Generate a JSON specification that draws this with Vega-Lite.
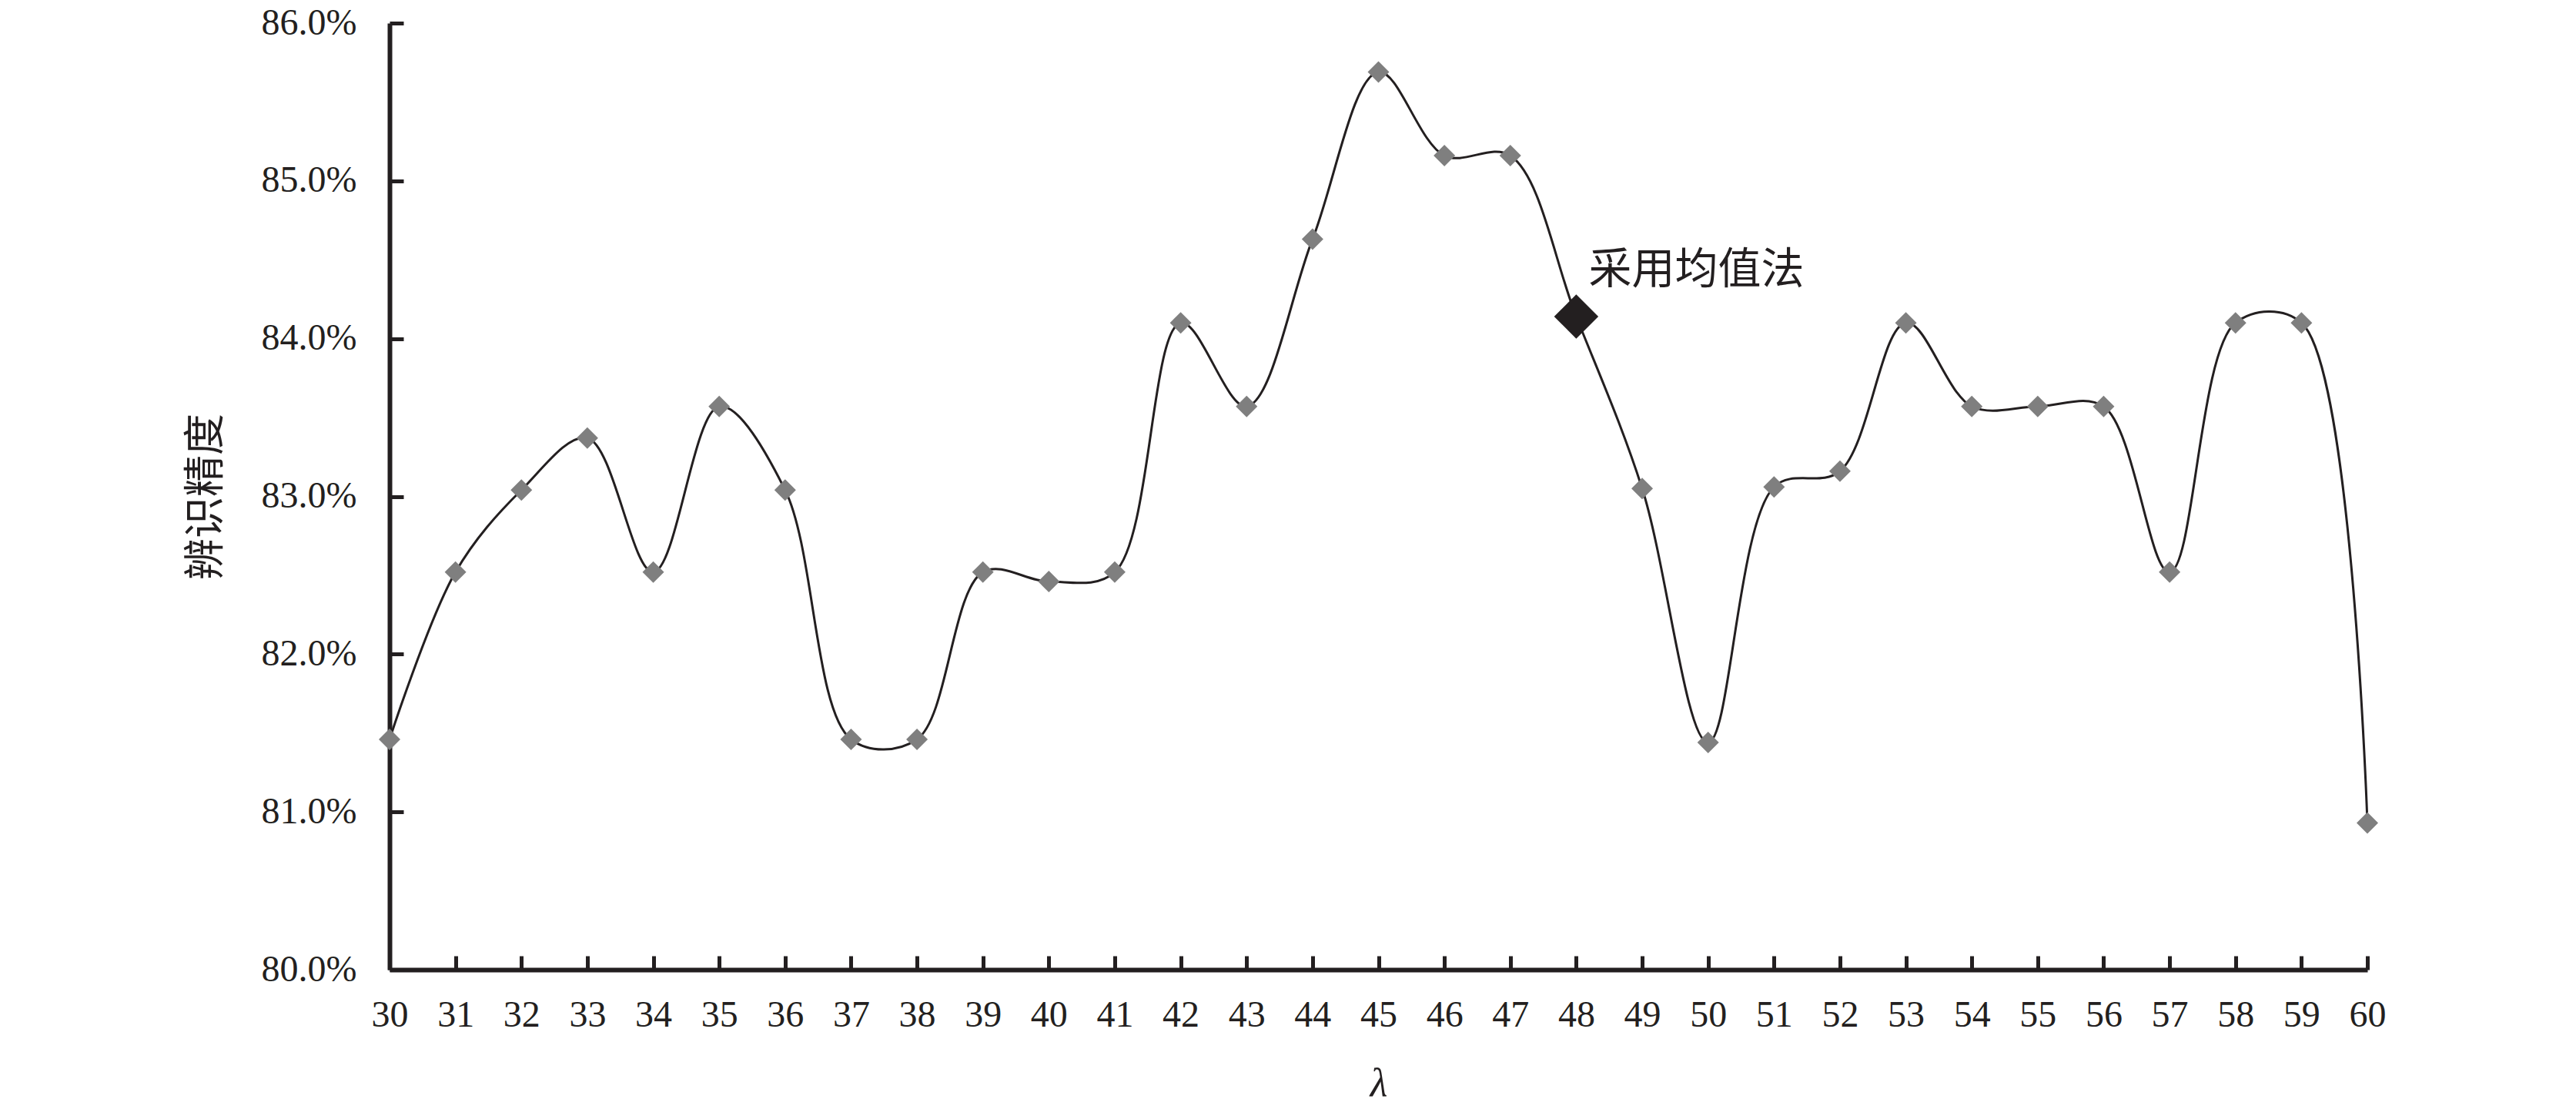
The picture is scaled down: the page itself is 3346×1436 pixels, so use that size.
{
  "$schema": "https://vega.github.io/schema/vega-lite/v6.json",
  "autosize": "none",
  "width": 2569,
  "height": 1229,
  "padding": {"left": 506, "top": 30, "right": 271, "bottom": 177},
  "background": "white",
  "config": {
    "view": {"stroke": null},
    "axis": {
      "grid": false,
      "domainColor": "#231f20",
      "domainWidth": 6,
      "tickColor": "#231f20",
      "tickWidth": 5,
      "tickSize": -18,
      "labelFlush": false,
      "labelFont": "Liberation Serif",
      "labelFontSize": 48,
      "labelColor": "#231f20",
      "titleColor": "#231f20",
      "titleFontWeight": "normal"
    }
  },
  "data": {
    "values": [
      {"lambda": 30, "acc": 0.8146},
      {"lambda": 31, "acc": 0.8252},
      {"lambda": 32, "acc": 0.8304},
      {"lambda": 33, "acc": 0.8337},
      {"lambda": 34, "acc": 0.8252},
      {"lambda": 35, "acc": 0.8357},
      {"lambda": 36, "acc": 0.8304},
      {"lambda": 37, "acc": 0.8146},
      {"lambda": 38, "acc": 0.8146},
      {"lambda": 39, "acc": 0.8252},
      {"lambda": 40, "acc": 0.8246},
      {"lambda": 41, "acc": 0.8252},
      {"lambda": 42, "acc": 0.8410},
      {"lambda": 43, "acc": 0.8357},
      {"lambda": 44, "acc": 0.8463},
      {"lambda": 45, "acc": 0.8569},
      {"lambda": 46, "acc": 0.8516},
      {"lambda": 47, "acc": 0.8516},
      {"lambda": 48, "acc": 0.8414},
      {"lambda": 49, "acc": 0.8305},
      {"lambda": 50, "acc": 0.8144},
      {"lambda": 51, "acc": 0.8306},
      {"lambda": 52, "acc": 0.8316},
      {"lambda": 53, "acc": 0.8410},
      {"lambda": 54, "acc": 0.8357},
      {"lambda": 55, "acc": 0.8357},
      {"lambda": 56, "acc": 0.8357},
      {"lambda": 57, "acc": 0.8252},
      {"lambda": 58, "acc": 0.8410},
      {"lambda": 59, "acc": 0.8410},
      {"lambda": 60, "acc": 0.8093}
    ]
  },
  "encoding": {
    "x": {
      "field": "lambda",
      "type": "quantitative",
      "scale": {"domain": [30, 60], "nice": false, "zero": false},
      "axis": {
        "values": [30,31,32,33,34,35,36,37,38,39,40,41,42,43,44,45,46,47,48,49,50,51,52,53,54,55,56,57,58,59,60],
        "format": "d",
        "labelPadding": 53,
        "title": "λ",
        "titleFont": "Liberation Serif",
        "titleFontStyle": "italic",
        "titleFontSize": 52,
        "titlePadding": 39
      }
    },
    "y": {
      "field": "acc",
      "type": "quantitative",
      "scale": {"domain": [0.80, 0.86], "nice": false, "zero": false},
      "axis": {
        "values": [0.80, 0.81, 0.82, 0.83, 0.84, 0.85, 0.86],
        "format": ".1%",
        "labelPadding": 61,
        "title": "辨识精度",
        "titleFont": "Noto Sans CJK SC",
        "titleFontSize": 54,
        "titlePadding": 44
      }
    }
  },
  "layer": [
    {
      "mark": {"type": "line", "interpolate": "catmull-rom", "tension": 0.5, "color": "#231f20", "strokeWidth": 3}
    },
    {
      "transform": [{"filter": "datum.lambda != 48"}],
      "mark": {"type": "point", "shape": "diamond", "filled": true, "size": 784, "color": "#7f7f7f", "opacity": 1}
    },
    {
      "transform": [{"filter": "datum.lambda == 48"}],
      "mark": {"type": "point", "shape": "diamond", "filled": true, "size": 3300, "color": "#231f20", "opacity": 1}
    },
    {
      "transform": [{"filter": "datum.lambda == 48"}],
      "mark": {"type": "text", "text": "采用均值法", "font": "Noto Sans CJK SC", "fontSize": 56, "color": "#231f20", "align": "left", "baseline": "middle", "dx": 16, "dy": -60}
    }
  ]
}
